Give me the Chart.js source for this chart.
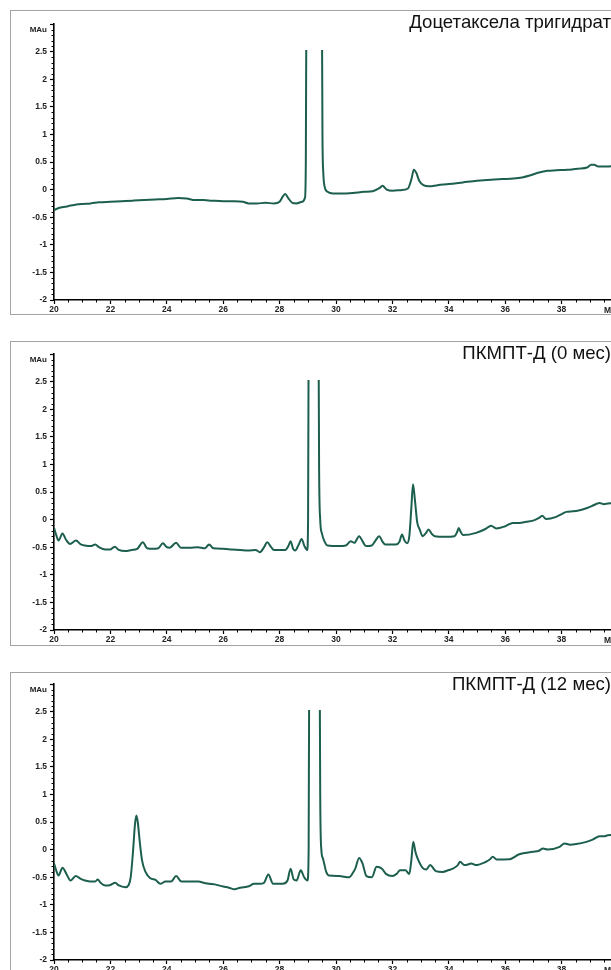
<!DOCTYPE html>
<html><head><meta charset="utf-8">
<script src="https://cdn.jsdelivr.net/npm/chart.js@4.4.1/dist/chart.umd.min.js"></script>
<style>
html,body{margin:0;padding:0;background:#fff;}
body{width:611px;height:970px;overflow:hidden;position:relative;font-family:"Liberation Sans",Arial,sans-serif;}
.panel{position:absolute;left:0;width:611px;height:331px;overflow:hidden;}
.frame{position:absolute;left:10px;top:10px;width:700px;height:303px;border:1px solid #a3a3a3;}
.panel canvas{position:absolute;left:0;top:0;}
.title{position:absolute;right:0;top:13px;font-size:18.6px;line-height:1;color:#111;white-space:nowrap;}
</style></head><body>
<div class="panel" style="top:0px"><div class="frame"></div><canvas id="c1" width="640" height="320"></canvas><div class="title" id="t1"></div></div>
<div class="panel" style="top:330px"><div class="frame" style="top:11px"></div><canvas id="c2" width="640" height="320"></canvas><div class="title" id="t2" style="top:14px"></div></div>
<div class="panel" style="top:660px"><div class="frame" style="top:12px"></div><canvas id="c3" width="640" height="320"></canvas><div class="title" id="t3" style="top:15px"></div></div>
<script>
// ---------- data ----------
const panelTitles = ['Доцетаксела тригидрат', 'ПКМПТ-Д (0 мес)', 'ПКМПТ-Д (12 мес)'];
const yUnitLabel = 'MAu';
const xUnitLabel = 'Min';
const xTickValues = [20, 22, 24, 26, 28, 30, 32, 34, 36, 38];
const xTickLabels = ['20', '22', '24', '26', '28', '30', '32', '34', '36', '38'];
const yTickValues = [-2, -1.5, -1, -0.5, 0, 0.5, 1, 1.5, 2, 2.5, 3];
const yTickLabels = ['-2', '-1.5', '-1', '-0.5', '0', '0.5', '1', '1.5', '2', '2.5', ''];

// Доцетаксела тригидрат
const timeDocetaxel = [20.0,20.2,20.5,20.8,21.0,21.3,21.6,22.0,22.4,22.8,23.2,23.6,24.0,24.4,24.7,25.0,25.3,25.6,26.0,26.4,26.7,26.9,27.2,27.5,27.8,28.0,28.12,28.2,28.3,28.45,28.6,28.8,28.9,28.93,28.95,29.2,29.5,29.52,29.55,29.6,29.7,29.9,30.2,30.6,31.0,31.3,31.55,31.65,31.8,32.0,32.3,32.55,32.68,32.76,32.85,32.95,33.1,33.3,33.6,34.0,34.5,35.0,35.5,35.9,36.3,36.6,36.9,37.2,37.5,37.8,38.2,38.6,38.9,39.05,39.15,39.3,39.6,39.9,40.0];
const signalDocetaxel = [-0.37,-0.33,-0.30,-0.27,-0.26,-0.25,-0.23,-0.22,-0.21,-0.20,-0.19,-0.18,-0.17,-0.15,-0.16,-0.19,-0.19,-0.20,-0.21,-0.21,-0.22,-0.25,-0.25,-0.24,-0.25,-0.22,-0.12,-0.08,-0.15,-0.24,-0.25,-0.22,-0.15,0.5,3.5,40,3.5,1.0,0.3,0.05,-0.04,-0.07,-0.07,-0.06,-0.04,-0.03,0.03,0.07,0.0,-0.02,-0.01,0.02,0.2,0.36,0.3,0.16,0.08,0.06,0.08,0.10,0.13,0.16,0.18,0.19,0.20,0.22,0.26,0.31,0.34,0.35,0.36,0.38,0.40,0.45,0.45,0.42,0.42,0.43,0.43];

// ПКМПТ-Д (0 мес)
const time0m = [20.0,20.08,20.16,20.3,20.42,20.57,20.78,20.95,21.1,21.3,21.46,21.6,21.82,22.0,22.15,22.3,22.53,22.75,22.95,23.15,23.3,23.5,23.7,23.86,24.0,24.1,24.33,24.5,24.8,25.1,25.35,25.5,25.65,26.0,26.3,26.6,26.9,27.15,27.3,27.45,27.56,27.7,27.8,28.0,28.2,28.32,28.39,28.48,28.55,28.68,28.78,28.88,28.98,29.01,29.03,29.2,29.38,29.40,29.44,29.5,29.58,29.7,30.1,30.35,30.52,30.65,30.82,30.95,31.06,31.27,31.4,31.53,31.65,31.75,32.12,32.25,32.34,32.43,32.52,32.6,32.67,32.73,32.8,32.88,32.97,33.07,33.18,33.28,33.4,33.5,33.9,34.2,34.3,34.35,34.42,34.5,34.97,35.3,35.5,35.68,36.0,36.27,36.5,36.74,37.04,37.2,37.31,37.45,37.81,38.0,38.17,38.4,38.64,38.85,39.05,39.35,39.5,39.64,40.0];
const signal0m = [-0.15,-0.28,-0.38,-0.25,-0.36,-0.44,-0.38,-0.45,-0.47,-0.48,-0.45,-0.50,-0.54,-0.54,-0.49,-0.55,-0.57,-0.55,-0.53,-0.41,-0.52,-0.53,-0.52,-0.43,-0.50,-0.51,-0.42,-0.51,-0.51,-0.50,-0.52,-0.45,-0.52,-0.53,-0.54,-0.55,-0.56,-0.55,-0.59,-0.50,-0.41,-0.50,-0.55,-0.55,-0.55,-0.47,-0.39,-0.53,-0.56,-0.45,-0.35,-0.48,-0.55,0.0,3.5,40,3.5,1.0,0.0,-0.25,-0.38,-0.47,-0.48,-0.47,-0.39,-0.42,-0.30,-0.40,-0.48,-0.47,-0.38,-0.30,-0.40,-0.45,-0.45,-0.40,-0.27,-0.38,-0.43,-0.30,0.2,0.64,0.35,-0.05,-0.18,-0.30,-0.25,-0.18,-0.26,-0.30,-0.31,-0.30,-0.22,-0.15,-0.22,-0.28,-0.24,-0.17,-0.11,-0.16,-0.12,-0.06,-0.06,-0.04,-0.01,0.03,0.07,0.01,0.05,0.10,0.14,0.15,0.17,0.20,0.24,0.30,0.28,0.29,0.32];

// ПКМПТ-Д (12 мес)
const time12m = [20.0,20.08,20.16,20.3,20.45,20.58,20.77,20.95,21.1,21.3,21.46,21.55,21.65,21.82,22.0,22.17,22.3,22.53,22.65,22.72,22.8,22.87,22.92,22.97,23.05,23.12,23.24,23.42,23.6,23.77,23.95,24.15,24.33,24.52,24.8,25.13,25.3,25.5,25.7,26.0,26.2,26.4,26.6,26.91,27.09,27.3,27.45,27.6,27.77,28.1,28.28,28.39,28.5,28.6,28.75,28.87,28.99,29.03,29.05,29.25,29.42,29.44,29.48,29.53,29.58,29.65,29.75,30.11,30.47,30.6,30.68,30.82,30.94,31.08,31.27,31.44,31.63,31.77,32.0,32.15,32.27,32.46,32.6,32.67,32.74,32.82,32.9,33.07,33.2,33.34,33.54,33.78,34.0,34.14,34.32,34.4,34.55,34.68,34.79,34.95,35.32,35.45,35.56,35.7,36.15,36.5,36.98,37.2,37.34,37.5,37.93,38.1,38.3,38.52,38.88,39.1,39.35,39.5,39.64,40.0];
const signal12m = [-0.25,-0.38,-0.47,-0.33,-0.45,-0.56,-0.48,-0.53,-0.56,-0.58,-0.58,-0.54,-0.60,-0.65,-0.64,-0.60,-0.65,-0.68,-0.64,-0.50,-0.05,0.45,0.62,0.50,0.10,-0.19,-0.40,-0.52,-0.55,-0.62,-0.58,-0.58,-0.48,-0.58,-0.58,-0.58,-0.60,-0.62,-0.63,-0.67,-0.69,-0.72,-0.69,-0.665,-0.62,-0.62,-0.60,-0.45,-0.62,-0.62,-0.56,-0.345,-0.54,-0.56,-0.375,-0.50,-0.56,0.0,3.5,40,3.5,1.0,0.0,-0.15,-0.25,-0.40,-0.47,-0.48,-0.50,-0.42,-0.35,-0.15,-0.25,-0.48,-0.50,-0.31,-0.345,-0.44,-0.48,-0.44,-0.375,-0.375,-0.44,-0.2,0.14,-0.05,-0.17,-0.33,-0.36,-0.28,-0.39,-0.405,-0.37,-0.345,-0.28,-0.22,-0.28,-0.27,-0.25,-0.28,-0.22,-0.18,-0.13,-0.18,-0.175,-0.085,-0.04,-0.02,0.02,0.0,0.05,0.11,0.09,0.10,0.14,0.18,0.24,0.24,0.26,0.27];

// ---------- drawing ----------
const LINE_COLOR = '#1d5f4e';
const TICK_FONT = { family: '"Liberation Sans", Arial, sans-serif', size: 8.5, weight: 'bold' };

const axisExtras = {
  id: 'axisExtras',
  afterDraw(chart) {
    const { ctx, chartArea, scales: { x, y } } = chart;
    ctx.save();
    ctx.strokeStyle = '#000';
    ctx.lineWidth = 1;
    ctx.beginPath();
    for (let k = -20; k <= 30; k++) {
      if (k % 5 === 0) continue;
      const py = Math.round(y.getPixelForValue(k / 10)) + 0.5;
      ctx.moveTo(chartArea.left - 2.5, py);
      ctx.lineTo(chartArea.left, py);
    }
    for (let k = 40; k <= 80; k++) {
      if (k % 4 === 0) continue;
      const px = Math.round(x.getPixelForValue(k / 2)) + 0.5;
      ctx.moveTo(px, chartArea.bottom);
      ctx.lineTo(px, chartArea.bottom + 2.5);
    }
    ctx.stroke();
    ctx.fillStyle = '#222';
    ctx.font = 'bold 8px "Liberation Sans", Arial, sans-serif';
    ctx.textAlign = 'right';
    ctx.textBaseline = 'middle';
    ctx.fillText(yUnitLabel, chartArea.left - 7, y.getPixelForValue(2.89));
    ctx.font = 'bold 8.5px "Liberation Sans", Arial, sans-serif';
    ctx.textAlign = 'left';
    ctx.textBaseline = 'top';
    ctx.fillText(xUnitLabel, x.getPixelForValue(39.5), chartArea.bottom + 6);
    ctx.restore();
  }
};

function makeChart(id, times, signals) {
  return new Chart(document.getElementById(id), {
    type: 'line',
    data: {
      datasets: [{
        data: times.map((t, i) => ({ x: t, y: signals[i] })),
        borderColor: LINE_COLOR,
        borderWidth: 2,
        pointRadius: 0,
        cubicInterpolationMode: 'monotone',
        clip: { left: 0, top: -26, right: 0, bottom: 0 }
      }]
    },
    options: {
      responsive: false,
      animation: false,
      devicePixelRatio: 1,
      layout: { padding: { left: 10, top: 24, right: 22, bottom: 6 } },
      plugins: { legend: { display: false }, tooltip: { enabled: false }, title: { display: false } },
      scales: {
        x: {
          type: 'linear', min: 20, max: 40,
          afterFit: s => { s.height = 14; },
          afterBuildTicks: s => { s.ticks = xTickValues.map(v => ({ value: v })); },
          ticks: { callback: (v, i) => xTickLabels[i], font: TICK_FONT, color: '#222', padding: 1, autoSkip: false, maxRotation: 0 },
          grid: { drawOnChartArea: false, drawTicks: true, tickLength: 4, tickColor: '#000', tickWidth: 1.2 },
          border: { display: true, color: '#000', width: 1.6 }
        },
        y: {
          type: 'linear', min: -2, max: 3,
          afterFit: s => { s.width = 44; },
          afterBuildTicks: s => { s.ticks = yTickValues.map(v => ({ value: v })); },
          ticks: { callback: (v, i) => yTickLabels[i], font: TICK_FONT, color: '#222', padding: 3, autoSkip: false },
          grid: { drawOnChartArea: false, drawTicks: true, tickLength: 4, tickColor: '#000', tickWidth: 1.2 },
          border: { display: true, color: '#000', width: 1.6 }
        }
      }
    },
    plugins: [axisExtras]
  });
}

document.getElementById('t1').textContent = panelTitles[0];
document.getElementById('t2').textContent = panelTitles[1];
document.getElementById('t3').textContent = panelTitles[2];
makeChart('c1', timeDocetaxel, signalDocetaxel);
makeChart('c2', time0m, signal0m);
makeChart('c3', time12m, signal12m);
</script>
</body></html>
